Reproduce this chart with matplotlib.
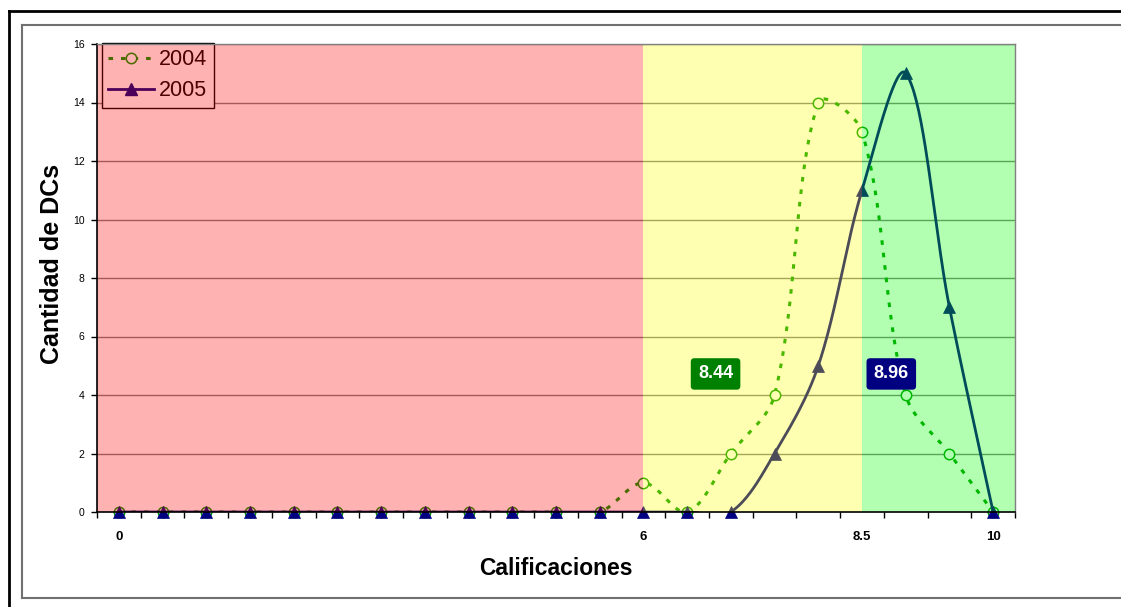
import numpy as np
import matplotlib
matplotlib.use("Agg")
import matplotlib.pyplot as plt
from matplotlib.lines import Line2D

# Grade categories (every half point) and the number of DCs in each one
categories = ["0", "0.5", "1", "1.5", "2", "2.5", "3", "3.5", "4", "4.5", "5",
              "5.5", "6", "6.5", "7", "7.5", "8", "8.5", "9", "9.5", "10"]
counts_2004 = [0, 0, 0, 0, 0, 0, 0, 0, 0, 0, 0, 0, 1, 0, 2, 4, 14, 13, 4, 2, 0]
counts_2005 = [0, 0, 0, 0, 0, 0, 0, 0, 0, 0, 0, 0, 0, 0, 0, 2, 5, 11, 15, 7, 0]
shown_labels = ["0", "6", "8.5", "10"]
band_edges = ["6", "8.5"]          # failing / passing / outstanding limits
mean_2004 = 8.44
mean_2005 = 8.96
yticks = [0, 2, 4, 6, 8, 10, 12, 14, 16]

W, H, DPI = 1121, 607, 100
fig = plt.figure(figsize=(W / DPI, H / DPI), dpi=DPI)
fig.patch.set_facecolor("white")

L, R, T, B = 97, 1015, 44, 512
ax = fig.add_axes([L / W, 1 - B / H, (R - L) / W, (B - T) / H])
ax.set_facecolor("white")

n = len(categories)
xs = np.arange(n)
ax.set_xlim(-0.5, n - 0.5)
ax.set_ylim(0, 16)

# pixel size of one unit on each axis, used for the smoothing weights
sx = (R - L) / n
sy = (B - T) / 16.0


def smooth_curve(x, y, steps=40):
    """Bezier smoothing with handle lengths weighted by neighbouring segments."""
    P = np.column_stack([np.asarray(x, float) * sx, np.asarray(y, float) * sy])
    out = [P[0]]
    m = len(P)
    for i in range(m - 1):
        p0 = P[i - 1] if i > 0 else P[i]
        p1, p2 = P[i], P[i + 1]
        p3 = P[i + 2] if i + 2 < m else P[i + 1]
        d01 = np.linalg.norm(p1 - p0)
        d12 = np.linalg.norm(p2 - p1)
        d23 = np.linalg.norm(p3 - p2)
        f1 = d12 / (d01 + d12) / 3 if d01 + d12 > 0 else 0
        f2 = d12 / (d12 + d23) / 3 if d12 + d23 > 0 else 0
        c1 = p1 + (p2 - p0) * f1
        c2 = p2 - (p3 - p1) * f2
        t = np.linspace(0, 1, steps)[1:, None]
        seg = ((1 - t) ** 3) * p1 + 3 * ((1 - t) ** 2) * t * c1 \
            + 3 * (1 - t) * t ** 2 * c2 + t ** 3 * p2
        out.extend(seg)
    out = np.array(out)
    return out[:, 0] / sx, out[:, 1] / sy


green = "#009900"
navy = "#000080"
dots = (0, (1.5, 2.6))

# gridlines
for v in yticks[1:]:
    ax.axhline(v, color="#808080", lw=1.0, zorder=1)

# 2004 series
cx, cy = smooth_curve(xs, counts_2004)
ax.plot(cx, cy, color=green, lw=2.2, ls=dots, zorder=2, dash_capstyle="butt")
ax.plot(xs, counts_2004, ls="none", marker="o", ms=7.5, mfc="white",
        mec=green, mew=1.1, zorder=2.2, clip_on=False)

# 2005 series
cx, cy = smooth_curve(xs, counts_2005)
ax.plot(cx, cy, color=navy, lw=2.0, zorder=2.5)
ax.plot(xs, counts_2005, ls="none", marker="^", ms=8.5, mfc=navy,
        mec=navy, mew=0.5, zorder=2.7, clip_on=False)

# legend
h2004 = Line2D([], [], color=green, lw=2.2, ls=dots, marker="o",
               ms=7.5, mfc="white", mec=green, mew=1.1)
h2005 = Line2D([], [], color=navy, lw=2.0, marker="^", ms=8.5, mfc=navy,
               mec=navy)
leg = ax.legend([h2004, h2005], ["2004", "2005"], loc="upper left",
                bbox_to_anchor=(102 / W, 1 - 43 / H),
                bbox_transform=fig.transFigure, borderaxespad=0,
                prop={"family": "Liberation Sans", "size": 15.5},
                frameon=True, fancybox=False, framealpha=1,
                facecolor="white", edgecolor="black", borderpad=0.3,
                labelspacing=0.45, handlelength=2.1, handletextpad=0.25)
leg.get_frame().set_linewidth(1.0)
leg.set_zorder(3)

# translucent grade bands laid over the plot
i_lo = categories.index(band_edges[0])
i_hi = categories.index(band_edges[1])
ax.axvspan(-0.5, i_lo, color=(1, 0, 0), alpha=0.3, lw=0, zorder=4)
ax.axvspan(i_lo, i_hi, color=(1, 1, 0), alpha=0.3, lw=0, zorder=4)
ax.axvspan(i_hi, n - 0.5, color=(0, 1, 0), alpha=0.3, lw=0, zorder=4)

# mean labels
box_font = {"family": "Liberation Sans", "size": 13, "weight": "bold"}
ax.text(13.65, 4.72, f"{mean_2004:.2f}", color="white", ha="center",
        va="center", fontdict=box_font, zorder=6,
        bbox=dict(boxstyle="round,pad=0.4,rounding_size=0.2", fc="#008000",
                  ec="none"))
ax.text(17.67, 4.72, f"{mean_2005:.2f}", color="white", ha="center",
        va="center", fontdict=box_font, zorder=6,
        bbox=dict(boxstyle="round,pad=0.4,rounding_size=0.2", fc=navy,
                  ec="none"))

# axes frame
for side in ("top", "right"):
    ax.spines[side].set_color("#808080")
    ax.spines[side].set_linewidth(1.0)
for side in ("left", "bottom"):
    ax.spines[side].set_color("black")
    ax.spines[side].set_linewidth(1.2)
for sp in ax.spines.values():
    sp.set_zorder(5)

# ticks
ax.set_yticks(yticks)
ax.set_yticklabels([str(v) for v in yticks], family="Liberation Sans",
                   fontsize=7.5)
ax.tick_params(axis="y", direction="out", length=4, width=1, pad=5,
               color="black")

label_pos = [categories.index(s) for s in shown_labels]
ax.set_xticks(label_pos)
ax.set_xticklabels(shown_labels, family="Liberation Sans", fontsize=9.5,
                   fontweight="bold")
ax.tick_params(axis="x", which="major", length=0, pad=14)
ax.set_xticks(np.arange(-0.5, n, 1.0), minor=True)
ax.tick_params(axis="x", which="minor", direction="out", length=4, width=1,
               color="black")

ax.set_xlabel("Calificaciones", family="Liberation Sans", fontsize=16.5,
              fontweight="bold", labelpad=10)
ax.set_ylabel("Cantidad de DCs", family="Liberation Sans", fontsize=18,
              fontweight="bold", labelpad=6, y=0.53)

# chart frames
fig.add_artist(Line2D([9 / W, 9 / W], [0, 1 - 11 / H], color="black", lw=2,
                      transform=fig.transFigure))
fig.add_artist(Line2D([9 / W, 1], [1 - 11 / H, 1 - 11 / H], color="black",
                      lw=2, transform=fig.transFigure))
fig.add_artist(Line2D([21.5 / W, 1], [1 - 25 / H, 1 - 25 / H], color="#707070",
                      lw=1.5, transform=fig.transFigure))
fig.add_artist(Line2D([21.5 / W, 21.5 / W], [1 - 25 / H, 1 - 598 / H],
                      color="#707070", lw=1.5, transform=fig.transFigure))
fig.add_artist(Line2D([21.5 / W, 1], [1 - 598 / H, 1 - 598 / H],
                      color="#707070", lw=1.5, transform=fig.transFigure))

fig.savefig("out.png", dpi=DPI)
